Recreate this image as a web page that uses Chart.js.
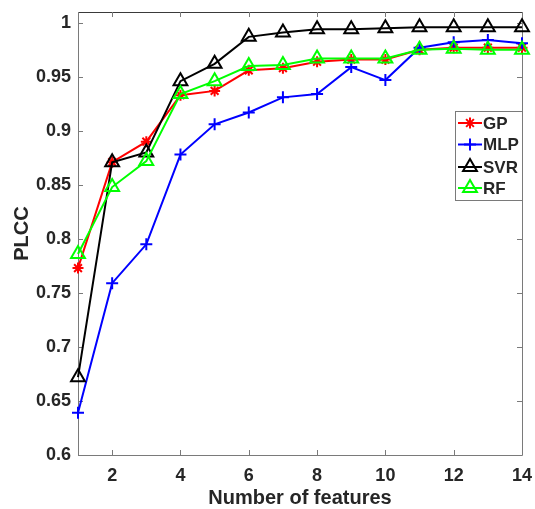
<!DOCTYPE html>
<html><head><meta charset="utf-8">
<script src="https://cdn.jsdelivr.net/npm/chart.js@4/dist/chart.umd.min.js"></script>
<style>html,body{margin:0;padding:0;background:#fff}</style>
</head><body>
<canvas id="c" width="535" height="509"></canvas>
<script>
const numFeatures = [1,2,3,4,5,6,7,8,9,10,11,12,13,14];
const gpValues  = [0.773,0.871,0.890,0.933,0.937,0.956,0.958,0.964,0.966,0.966,0.975,0.977,0.977,0.977];
const mlpValues = [0.639,0.759,0.795,0.878,0.906,0.917,0.931,0.934,0.959,0.947,0.977,0.982,0.984,0.981];
const svrValues = [0.672,0.871,0.880,0.946,0.962,0.987,0.991,0.994,0.994,0.995,0.996,0.996,0.996,0.996];
const rfValues  = [0.786,0.848,0.872,0.934,0.946,0.960,0.961,0.967,0.967,0.967,0.975,0.976,0.975,0.975];
const seriesNames = ['GP','MLP','SVR','RF'];
const xTickValues = [2,4,6,8,10,12,14];
const yTickValues = [0.6,0.65,0.7,0.75,0.8,0.85,0.9,0.95,1];
const xTitle = 'Number of features';
const yTitle = 'PLCC';

const TXT = '#262626';
const AX = '#7a7a7a';
const FONT = '"Liberation Sans", Arial, Helvetica, sans-serif';

function toXY(vals){ return numFeatures.map((x,i)=>({x:x,y:vals[i]})); }

const styles = [
  {color:'#ff0000', pointStyle:'star', r:5.5, order:3},
  {color:'#0000ff', pointStyle:'cross', r:6, order:2},
  {color:'#000000', pointStyle:'triangle', r:8, order:1},
  {color:'#00ff00', pointStyle:'triangle', r:8, order:0}
];
const allVals = [gpValues, mlpValues, svrValues, rfValues];

const datasets = allVals.map((v,i)=>({
  label: seriesNames[i],
  data: toXY(v),
  borderColor: styles[i].color,
  backgroundColor: 'rgba(0,0,0,0)',
  borderWidth: 2,
  pointStyle: styles[i].pointStyle,
  pointRadius: styles[i].r,
  pointBorderWidth: 2,
  pointBorderColor: styles[i].color,
  pointBackgroundColor: 'rgba(0,0,0,0)',
  tension: 0,
  fill: false,
  clip: false,
  order: styles[i].order
}));

const boxPlugin = {
  id:'box',
  beforeDatasetsDraw(chart){
    const ctx = chart.ctx, a = chart.chartArea;
    const xs = chart.scales.x, ys = chart.scales.y;
    const L = Math.round(a.left)+0.5, R = Math.round(a.right)+0.5, T = Math.round(a.top)+0.5, B = Math.round(a.bottom)+0.5;
    ctx.save();
    ctx.lineWidth = 1;
    ctx.strokeStyle = AX;
    ctx.beginPath();
    ctx.moveTo(L, T); ctx.lineTo(L, B); ctx.lineTo(R, B); ctx.lineTo(R, T);
    ctx.stroke();
    ctx.strokeStyle = '#3a3a3a';
    ctx.beginPath(); ctx.moveTo(L, T); ctx.lineTo(R, T); ctx.stroke();
    ctx.strokeStyle = AX;
    const tl = 5;
    ctx.beginPath();
    xTickValues.forEach(v=>{
      const px = Math.round(xs.getPixelForValue(v))+0.5;
      ctx.moveTo(px, a.bottom); ctx.lineTo(px, a.bottom-tl);
      ctx.moveTo(px, a.top); ctx.lineTo(px, a.top+tl);
    });
    yTickValues.forEach(v=>{
      const py = Math.round(ys.getPixelForValue(v))+0.5;
      ctx.moveTo(a.left, py); ctx.lineTo(a.left+tl, py);
      ctx.moveTo(a.right, py); ctx.lineTo(a.right-tl, py);
    });
    ctx.stroke();
    ctx.restore();
  }
};

const legendPlugin = {
  id:'mlegend',
  afterDraw(chart){
    const ctx = chart.ctx;
    const bx = 455.5, by = 111.5, bw = 67, bh = 89;
    ctx.save();
    ctx.fillStyle = '#fff';
    ctx.fillRect(bx, by, bw, bh);
    ctx.strokeStyle = AX; ctx.lineWidth = 1;
    ctx.strokeRect(bx, by, bw, bh);
    const rows = [123, 144.5, 167, 188];
    seriesNames.forEach((n,i)=>{
      const y = rows[i];
      const st = styles[i];
      ctx.strokeStyle = st.color; ctx.lineWidth = 2;
      ctx.beginPath(); ctx.moveTo(458, y); ctx.lineTo(482, y); ctx.stroke();
      ctx.fillStyle = 'rgba(0,0,0,0)';
      ctx.strokeStyle = st.color; ctx.lineWidth = 2;
      Chart.helpers.drawPoint(ctx, {pointStyle: st.pointStyle, radius: st.r, borderWidth: 2, rotation: 0}, 470, y);
      ctx.font = 'bold 17px ' + FONT;
      ctx.textBaseline = 'middle';
      ctx.textAlign = 'left';
      ctx.fillStyle = TXT;
      ctx.fillText(n, 483, y+1);
    });
    ctx.restore();
  }
};

function zeroPad(s){ s.paddingLeft = 0; s.paddingRight = 0; s.paddingTop = 0; s.paddingBottom = 0; }

new Chart(document.getElementById('c'), {
  type:'line',
  data:{datasets},
  plugins:[boxPlugin, legendPlugin],
  options:{
    responsive:false,
    animation:false,
    devicePixelRatio:1,
    layout:{padding:{top:12,right:13,left:0,bottom:0}},
    plugins:{legend:{display:false}, tooltip:{enabled:false}},
    scales:{
      x:{
        type:'linear', min:1, max:14,
        afterBuildTicks(s){ s.ticks = xTickValues.map(v=>({value:v})); },
        afterFit(s){ s.height = 54; zeroPad(s); },
        grid:{display:false, drawTicks:false, tickLength:0}, border:{display:false},
        ticks:{font:{family:FONT, size:18, weight:'bold'}, color:TXT, padding:10, maxRotation:0, autoSkip:false},
        title:{display:true, text:xTitle, font:{family:FONT, size:20, weight:'bold', lineHeight:1.0}, color:TXT, padding:{top:0,bottom:1}}
      },
      y:{
        type:'linear', min:0.6, max:1.01,
        afterBuildTicks(s){ s.ticks = yTickValues.map(v=>({value:v})); },
        afterFit(s){ s.width = 78; zeroPad(s); },
        grid:{display:false, drawTicks:false, tickLength:0}, border:{display:false},
        ticks:{font:{family:FONT, size:18, weight:'bold'}, color:TXT, padding:7, autoSkip:false,
          callback:(v)=>String(+v.toFixed(2))},
        title:{display:true, text:yTitle, font:{family:FONT, size:20, weight:'bold'}, color:TXT, padding:{top:10,bottom:0}}
      }
    }
  }
});
</script>
</body></html>
